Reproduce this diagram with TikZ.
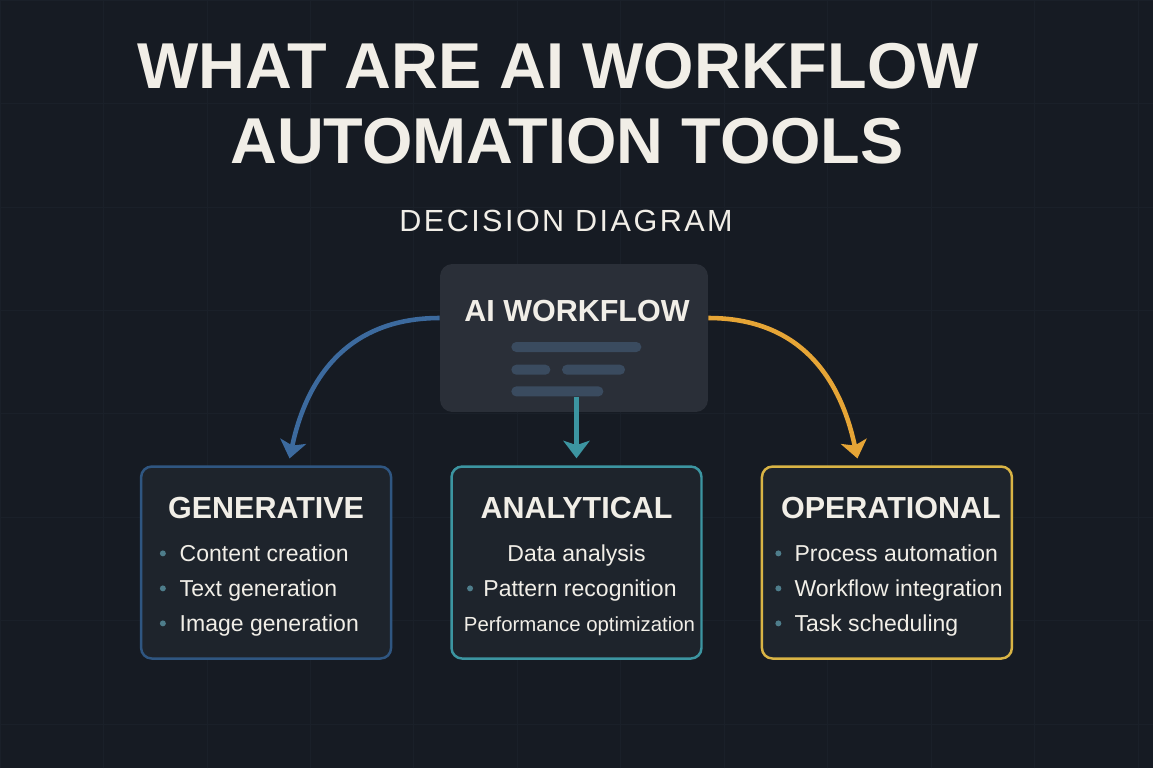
\documentclass[tikz,border=0pt]{standalone}
\usepackage{fontspec}
\setmainfont{Liberation Sans}
\usetikzlibrary{arrows.meta,positioning}
\definecolor{bgdark}{HTML}{161B23}
\definecolor{gridline}{HTML}{1A2029}
\definecolor{panelgrey}{HTML}{2A2F38}
\definecolor{cardfill}{HTML}{1E242C}
\definecolor{genblue}{HTML}{2F5681}
\definecolor{arcblue}{HTML}{3C6A9E}
\definecolor{anateal}{HTML}{3C95A1}
\definecolor{opsgold}{HTML}{D9B445}
\definecolor{arcgold}{HTML}{E6A536}
\definecolor{barslate}{HTML}{3A4B5F}
\definecolor{dotteal}{HTML}{4E7D8B}
\definecolor{offwhite}{HTML}{F1EEE7}

\begin{document}
\begin{tikzpicture}[
    x=0.02cm, y=0.02cm,
    title/.style={font=\fontsize{36.9}{40}\selectfont\bfseries, text=offwhite, inner sep=0pt},
    subtitle/.style={font=\fontsize{17.4}{20}\selectfont\addfontfeature{LetterSpace=8}, text=offwhite, inner sep=0pt},
    panel/.style={rectangle, fill=panelgrey, rounded corners=7pt, minimum width=5.36cm, minimum height=2.96cm},
    bar/.style={rectangle, fill=barslate, rounded corners=2.8pt, minimum height=0.2cm, inner sep=0pt},
    card/.style={rectangle, draw, line width=1.4pt, rounded corners=6pt, fill=cardfill, minimum width=5cm, minimum height=3.84cm},
    head/.style={font=\fontsize{17.35}{20}\selectfont\bfseries, text=offwhite, inner sep=0pt},
    item/.style={font=\fontsize{13.1}{15}\selectfont, text=offwhite, inner sep=0pt},
    flow/.style={-{Stealth[length=10pt, width=15pt, inset=2.5pt]}, line width=2.6pt, shorten >=4pt}
]

    % Background
    \useasboundingbox (0,0) rectangle (1153,-768);
    \fill[bgdark] (0,0) rectangle (1153,-768);
    \draw[gridline, line width=0.5pt, step=2.07cm] (0,0) grid (1153,-768);

    % Title
    \node[title, anchor=base] (titleA) at (558,-88) {WHAT ARE AI WORKFLOW};
    \node[title, anchor=base] (titleB) at (567,-163) {AUTOMATION TOOLS};
    \node[subtitle, anchor=base] (sub) at (566,-231) {DECISION DIAGRAM};

    % Workflow panel
    \node[panel] (wf) at (574,-338) {};
    \node[head, anchor=base] (wflabel) at ([xshift=0.06cm, yshift=-1.16cm]wf.north) {AI WORKFLOW};
    \node[bar, minimum width=2.6cm, anchor=west] (barA) at (511,-347) {};
    \node[bar, minimum width=0.78cm, below=0.24cm of barA.south west, anchor=north west] (barB) {};
    \node[bar, minimum width=1.26cm, right=0.22cm of barB] (barC) {};
    \node[bar, minimum width=1.84cm, below=0.22cm of barB.south west, anchor=north west] (barD) {};

    % Category cards
    \node[card, draw=anateal, below=1.06cm of wf, xshift=0.05cm] (ana) {};
    \node[card, draw=genblue, left=1.16cm of ana] (gen) {};
    \node[card, draw=opsgold, right=1.16cm of ana] (ops) {};

    \node[head, anchor=base] (genhead) at ([yshift=-1.06cm]gen.north) {GENERATIVE};
    \node[head, anchor=base] (anahead) at ([yshift=-1.06cm]ana.north) {ANALYTICAL};
    \node[head, anchor=base] (opshead) at ([xshift=0.08cm, yshift=-1.06cm]ops.north) {OPERATIONAL};

    % Generative items
    \foreach \txt [count=\i] in {Content creation, Text generation, Image generation} {
        \node[item, anchor=base west] (gen\i) at ([xshift=0.79cm, yshift={-1.22cm-0.7cm*\i}]gen.north west) {\txt};
        \fill[dotteal] ([xshift=-9.4pt, yshift=4.5pt]gen\i.base west) circle (1.7pt);
    }

    % Analytical items
    \node[item, anchor=base] (ana1) at ([yshift=-1.92cm]ana.north) {Data analysis};
    \node[item, anchor=base] (ana2) at ([xshift=0.07cm, yshift=-2.62cm]ana.north) {Pattern recognition};
    \fill[dotteal] ([xshift=-7.4pt, yshift=4.5pt]ana2.base west) circle (1.7pt);
    \node[item, anchor=base, font=\fontsize{11.6}{14}\selectfont] (ana3) at ([xshift=0.06cm, yshift=-3.32cm]ana.north) {Performance optimization};

    % Operational items
    \foreach \txt [count=\i] in {Process automation, Workflow integration, Task scheduling} {
        \node[item, anchor=base west] (ops\i) at ([xshift=0.67cm, yshift={-1.22cm-0.7cm*\i}]ops.north west) {\txt};
        \fill[dotteal] ([xshift=-9pt, yshift=4.5pt]ops\i.base west) circle (1.7pt);
    }

    % Arrows
    \draw[flow, arcblue] ([yshift=0.4cm]wf.west) to[out=180, in=78, looseness=1.1] ([xshift=0.44cm]gen.north);
    \draw[flow, arcgold] ([yshift=0.4cm]wf.east) to[out=0, in=102, looseness=1.1] ([xshift=-0.56cm]ops.north);
    \draw[flow, anateal] (barD.south -| ana.north) -- (ana.north);

\end{tikzpicture}
\end{document}
